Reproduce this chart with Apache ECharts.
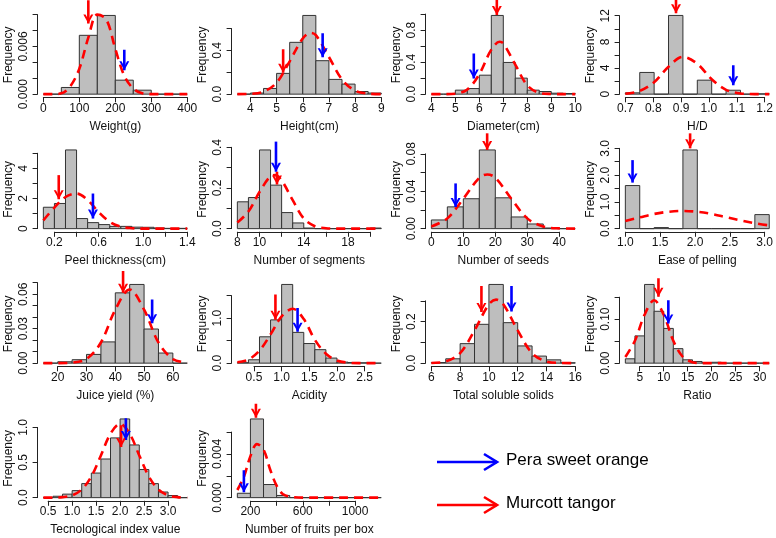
<!DOCTYPE html>
<html lang="en">
<head>
  <meta charset="UTF-8">
  <title>Fruit traits</title>
  <script src="https://cdn.jsdelivr.net/npm/echarts@6/dist/echarts.min.js"></script>
  <style>
    body { margin: 0; background: #fff; }
    #chart { width: 776px; height: 538px; }
  </style>
</head>
<body>
  <div id="chart"></div>
<script>
  // ---- data (densities, curve points, ticks, arrows [x, yTop, yTip]) ----
  const weightStart = 0, weightStep = 50;
  const weightDens = [0, 0.00084, 0.0074, 0.0099, 0.00176, 0.0005, 0, 0];
  const weightCurve = [[0, 0], [25, 0], [50, 0.0001], [75, 0.001], [100, 0.0032], [125, 0.0071], [150, 0.0100], [175, 0.0094], [200, 0.0057], [225, 0.0023], [250, 0.0007], [275, 0.0001], [300, 0], [350, 0], [400, 0]];
  const weightXTicks = [0, 100, 200, 300, 400];
  const weightXLabels = ['0', '100', '200', '300', '400'];
  const weightYTicks = [0, 0.002, 0.004, 0.006, 0.008, 0.010];
  const weightYLabels = ['0.000', '', '', '0.006', '', ''];
  const weightRed = [125, 0.0118, 0.0089];
  const weightBlue = [225, 0.0056, 0.0030];

  const heightStart = 3.5, heightStep = 0.5;
  const heightDens = [0, 0.01, 0.052, 0.19, 0.474, 0.72, 0.306, 0.135, 0.092, 0.024, 0.01];
  const heightCurve = [[3.5, 0], [4, 0.003], [4.5, 0.022], [5, 0.105], [5.5, 0.30], [6, 0.51], [6.3, 0.56], [6.5, 0.54], [7, 0.34], [7.5, 0.134], [8, 0.032], [8.5, 0.005], [9, 0]];
  const heightXTicks = [4, 5, 6, 7, 8, 9];
  const heightXLabels = ['4', '5', '6', '7', '8', '9'];
  const heightYTicks = [0, 0.2, 0.4, 0.6];
  const heightYLabels = ['0.0', '', '0.4', ''];
  const heightRed = [5.25, 0.41, 0.195];
  const heightBlue = [6.76, 0.557, 0.337];

  const diamStart = 4, diamStep = 0.5;
  const diamDens = [0, 0, 0.05, 0.07, 0.237, 0.983, 0.396, 0.2, 0.05, 0.033, 0.012, 0.008];
  const diamCurve = [[4, 0], [4.5, 0], [5, 0.006], [5.5, 0.058], [6, 0.25], [6.5, 0.556], [6.85, 0.654], [7, 0.634], [7.5, 0.37], [8, 0.11], [8.5, 0.017], [9, 0.002], [9.5, 0], [10, 0]];
  const diamXTicks = [4, 5, 6, 7, 8, 9, 10];
  const diamXLabels = ['4', '5', '6', '7', '8', '9', '10'];
  const diamYTicks = [0, 0.2, 0.4, 0.6, 0.8, 1.0];
  const diamYLabels = ['0.0', '', '0.4', '', '0.8', ''];
  const diamRed = [6.73, 1.175, 0.99];
  const diamBlue = [5.77, 0.509, 0.196];

  const hdStart = 0.7, hdStep = 0.05;
  const hdDens = [0.2, 3.32, 0, 12.04, 0, 2.14, 0, 0.6, 0, 0.05];
  const hdCurve = [[0.7, 0.07], [0.75, 0.49], [0.8, 1.83], [0.85, 4.2], [0.9, 5.71], [0.95, 4.64], [1.0, 2.27], [1.05, 0.66], [1.1, 0.11], [1.15, 0.01], [1.2, 0]];
  const hdXTicks = [0.7, 0.8, 0.9, 1.0, 1.1, 1.2];
  const hdXLabels = ['0.7', '0.8', '0.9', '1.0', '1.1', '1.2'];
  const hdYTicks = [0, 2, 4, 6, 8, 10, 12];
  const hdYLabels = ['0', '', '4', '', '8', '', '12'];
  const hdRed = [0.876, 14.4, 12.36];
  const hdBlue = [1.075, 4.44, 1.38];

  const peelStart = 0.1, peelStep = 0.1;
  const peelDens = [1.42, 1.67, 5.22, 0.67, 0.4, 0.27, 0.15, 0.15, 0.1, 0.09, 0.04, 0.02, 0.02];
  const peelCurve = [[0.1, 0.55], [0.2, 1.4], [0.3, 2.1], [0.4, 2.33], [0.5, 1.9], [0.6, 1.1], [0.7, 0.45], [0.8, 0.13], [0.9, 0.03], [1.0, 0], [1.2, 0], [1.4, 0]];
  const peelXTicks = [0.2, 0.4, 0.6, 0.8, 1.0, 1.2, 1.4];
  const peelXLabels = ['0.2', '', '0.6', '', '1.0', '', '1.4'];
  const peelYTicks = [0, 1, 2, 3, 4, 5];
  const peelYLabels = ['0', '', '2', '', '4', ''];
  const peelRed = [0.239, 3.55, 1.95];
  const peelBlue = [0.548, 2.33, 0.67];

  const segStart = 8, segStep = 1;
  const segDens = [0.132, 0.153, 0.387, 0.214, 0.079, 0.028, 0.003, 0, 0, 0, 0, 0, 0.003];
  const segCurve = [[8, 0.03], [9, 0.084], [10, 0.18], [11, 0.258], [11.4, 0.263], [12, 0.237], [13, 0.14], [14, 0.05], [15, 0.012], [16, 0.002], [17, 0], [19, 0], [21, 0]];
  const segXTicks = [8, 10, 12, 14, 16, 18, 20];
  const segXLabels = ['8', '10', '', '14', '', '18', ''];
  const segYTicks = [0, 0.1, 0.2, 0.3, 0.4];
  const segYLabels = ['0.0', '', '0.2', '', '0.4'];
  const segRed = [11.58, 0.28, 0.217];
  const segBlue = [11.49, 0.428, 0.28];

  const seedStart = 0, seedStep = 5;
  const seedDens = [0.0093, 0.0233, 0.032, 0.0842, 0.033, 0.0125, 0.005, 0.0007, 0];
  const seedCurve = [[0, 0.0023], [5, 0.011], [10, 0.032], [15, 0.0545], [17.5, 0.058], [20, 0.0545], [25, 0.032], [30, 0.011], [35, 0.0023], [40, 0.0003], [45, 0]];
  const seedXTicks = [0, 10, 20, 30, 40];
  const seedXLabels = ['0', '10', '20', '30', '40'];
  const seedYTicks = [0, 0.02, 0.04, 0.06, 0.08];
  const seedYLabels = ['0.00', '', '0.04', '', '0.08'];
  const seedRed = [17.45, 0.102, 0.0842];
  const seedBlue = [7.58, 0.0484, 0.0232];

  const easeStart = 1, easeStep = 0.2;
  const easeDens = [1.61, 0, 0.04, 0, 2.94, 0, 0, 0, 0, 0.525];
  const easeCurve = [[1, 0.29], [1.2, 0.42], [1.4, 0.55], [1.6, 0.63], [1.8, 0.66], [2, 0.63], [2.2, 0.55], [2.4, 0.43], [2.6, 0.31], [2.8, 0.2], [3, 0.12]];
  const easeXTicks = [1, 1.5, 2, 2.5, 3];
  const easeXLabels = ['1.0', '1.5', '2.0', '2.5', '3.0'];
  const easeYTicks = [0, 0.5, 1, 1.5, 2, 2.5, 3];
  const easeYLabels = ['0.0', '', '1.0', '', '2.0', '', '3.0'];
  const easeRed = [1.9, 3.56, 3.0];
  const easeBlue = [1.10, 2.56, 1.72];

  const juiceStart = 15, juiceStep = 5;
  const juiceDens = [0, 0.0012, 0.003, 0.0076, 0.0185, 0.0612, 0.0685, 0.0297, 0.0088, 0];
  const juiceCurve = [[15, 0], [20, 0], [25, 0.0004], [30, 0.0036], [35, 0.018], [40, 0.0465], [45, 0.064], [50, 0.0465], [55, 0.018], [60, 0.0036], [65, 0.0004]];
  const juiceXTicks = [20, 30, 40, 50, 60];
  const juiceXLabels = ['20', '30', '40', '50', '60'];
  const juiceYTicks = [0, 0.01, 0.02, 0.03, 0.04, 0.05, 0.06, 0.07];
  const juiceYLabels = ['0.00', '', '', '0.03', '', '', '0.06', ''];
  const juiceRed = [42.7, 0.0803, 0.0612];
  const juiceBlue = [52.8, 0.0553, 0.0348];

  const acidStart = 0.2, acidStep = 0.2;
  const acidDens = [0.01, 0.075, 0.586, 0.962, 1.75, 0.684, 0.436, 0.30, 0.113, 0.023, 0.015, 0.008, 0];
  const acidCurve = [[0.2, 0.02], [0.4, 0.08], [0.6, 0.28], [0.8, 0.64], [1.0, 1.04], [1.2, 1.21], [1.4, 0.98], [1.6, 0.52], [1.8, 0.21], [2.0, 0.06], [2.2, 0.01], [2.4, 0], [2.6, 0], [2.8, 0]];
  const acidXTicks = [0.5, 1, 1.5, 2, 2.5];
  const acidXLabels = ['0.5', '1.0', '1.5', '2.0', '2.5'];
  const acidYTicks = [0, 0.5, 1, 1.5];
  const acidYLabels = ['0.0', '', '1.0', ''];
  const acidRed = [0.888, 1.527, 0.963];
  const acidBlue = [1.288, 1.227, 0.70];

  const tssStart = 6, tssStep = 1;
  const tssDens = [0.003, 0.021, 0.094, 0.187, 0.379, 0.195, 0.083, 0.034, 0.016, 0.002];
  const tssCurve = [[6, 0.001], [7, 0.008], [8, 0.048], [9, 0.158], [10, 0.284], [10.5, 0.306], [11, 0.284], [12, 0.158], [13, 0.048], [14, 0.008], [15, 0.001], [16, 0]];
  const tssXTicks = [6, 8, 10, 12, 14, 16];
  const tssXLabels = ['6', '8', '10', '12', '14', '16'];
  const tssYTicks = [0, 0.1, 0.2, 0.3];
  const tssYLabels = ['0.0', '', '0.2', ''];
  const tssRed = [9.48, 0.371, 0.246];
  const tssBlue = [11.57, 0.371, 0.249];

  const ratioStart = 2, ratioStep = 2;
  const ratioDens = [0.0099, 0.062, 0.179, 0.118, 0.079, 0.033, 0.0076, 0.0038, 0.001, 0.002, 0, 0, 0, 0, 0];
  const ratioCurve = [[2, 0.014], [4, 0.051], [6, 0.11], [8, 0.143], [10, 0.11], [12, 0.051], [14, 0.014], [16, 0.0023], [18, 0], [20, 0], [24, 0], [28, 0], [32, 0]];
  const ratioXTicks = [5, 10, 15, 20, 25, 30];
  const ratioXLabels = ['5', '10', '15', '20', '25', '30'];
  const ratioYTicks = [0, 0.05, 0.10, 0.15];
  const ratioYLabels = ['0.00', '', '0.10', ''];
  const ratioRed = [8.9, 0.193, 0.151];
  const ratioBlue = [10.96, 0.143, 0.090];

  const techStart = 0.4, techStep = 0.2;
  const techDens = [0, 0.02, 0.05, 0.1, 0.2, 0.35, 0.55, 0.85, 1.12, 0.75, 0.4, 0.2, 0.08, 0.03, 0];
  const techCurve = [[0.4, 0], [0.6, 0.001], [0.8, 0.007], [1.0, 0.033], [1.2, 0.116], [1.4, 0.30], [1.6, 0.60], [1.8, 0.91], [2.0, 1.05], [2.2, 0.91], [2.4, 0.60], [2.6, 0.30], [2.8, 0.116], [3.0, 0.033], [3.2, 0.007], [3.4, 0.001]];
  const techXTicks = [0.5, 1, 1.5, 2, 2.5, 3];
  const techXLabels = ['0.5', '1.0', '1.5', '2.0', '2.5', '3.0'];
  const techYTicks = [0, 0.5, 1.0];
  const techYLabels = ['0.0', '0.5', '1.0'];
  const techRed = [2.02, 1.03, 0.72];
  const techBlue = [2.12, 1.13, 0.82];

  const fruitStart = 100, fruitStep = 100;
  const fruitDens = [0.0004, 0.0072, 0.0012, 0.0002, 0, 0, 0, 0, 0, 0, 0];
  const fruitCurve = [[100, 0.0007], [150, 0.0019], [200, 0.0038], [250, 0.0049], [300, 0.0044], [350, 0.0026], [400, 0.0011], [450, 0.0003], [500, 0.0001], [600, 0], [800, 0], [1000, 0], [1200, 0]];
  const fruitXTicks = [200, 400, 600, 800, 1000];
  const fruitXLabels = ['200', '', '600', '', '1000'];
  const fruitYTicks = [0, 0.002, 0.004, 0.006];
  const fruitYLabels = ['0.000', '', '0.004', ''];
  const fruitRed = [242, 0.0086, 0.0073];
  const fruitBlue = [150, 0.0025, 0.0005];

  const legendNames = ['Pera sweet orange', 'Murcott tangor'];

  // ---- layout ----
  const PW = 194, PH = 134.5;                  // one panel cell
  const PL = 37.6, PR = 193, PT = 12.3, PB = 97.3; // plot region inside a cell
  const FONT = 'Liberation Sans, Arial, sans-serif';
  const RED = '#ff0000', BLUE = '#0000ff';
  const HEAD = 'path://M0,0L10,14L20,0L15.5,0L10,8L4.5,0Z';

  const panels = [
    { title: 'Weight(g)', col: 0, row: 0, start: weightStart, step: weightStep, dens: weightDens, curve: weightCurve, xt: weightXTicks, xl: weightXLabels, yt: weightYTicks, yl: weightYLabels, red: weightRed, blue: weightBlue },
    { title: 'Height(cm)', col: 1, row: 0, start: heightStart, step: heightStep, dens: heightDens, curve: heightCurve, xt: heightXTicks, xl: heightXLabels, yt: heightYTicks, yl: heightYLabels, red: heightRed, blue: heightBlue },
    { title: 'Diameter(cm)', col: 2, row: 0, start: diamStart, step: diamStep, dens: diamDens, curve: diamCurve, xt: diamXTicks, xl: diamXLabels, yt: diamYTicks, yl: diamYLabels, red: diamRed, blue: diamBlue },
    { title: 'H/D', col: 3, row: 0, start: hdStart, step: hdStep, dens: hdDens, curve: hdCurve, xt: hdXTicks, xl: hdXLabels, yt: hdYTicks, yl: hdYLabels, red: hdRed, blue: hdBlue },
    { title: 'Peel thickness(cm)', col: 0, row: 1, start: peelStart, step: peelStep, dens: peelDens, curve: peelCurve, xt: peelXTicks, xl: peelXLabels, yt: peelYTicks, yl: peelYLabels, red: peelRed, blue: peelBlue },
    { title: 'Number of segments', col: 1, row: 1, start: segStart, step: segStep, dens: segDens, curve: segCurve, xt: segXTicks, xl: segXLabels, yt: segYTicks, yl: segYLabels, red: segRed, blue: segBlue },
    { title: 'Number of seeds', col: 2, row: 1, start: seedStart, step: seedStep, dens: seedDens, curve: seedCurve, xt: seedXTicks, xl: seedXLabels, yt: seedYTicks, yl: seedYLabels, red: seedRed, blue: seedBlue },
    { title: 'Ease of pelling', col: 3, row: 1, start: easeStart, step: easeStep, dens: easeDens, curve: easeCurve, xt: easeXTicks, xl: easeXLabels, yt: easeYTicks, yl: easeYLabels, red: easeRed, blue: easeBlue },
    { title: 'Juice yield (%)', col: 0, row: 2, start: juiceStart, step: juiceStep, dens: juiceDens, curve: juiceCurve, xt: juiceXTicks, xl: juiceXLabels, yt: juiceYTicks, yl: juiceYLabels, red: juiceRed, blue: juiceBlue },
    { title: 'Acidity', col: 1, row: 2, start: acidStart, step: acidStep, dens: acidDens, curve: acidCurve, xt: acidXTicks, xl: acidXLabels, yt: acidYTicks, yl: acidYLabels, red: acidRed, blue: acidBlue },
    { title: 'Total soluble solids', col: 2, row: 2, start: tssStart, step: tssStep, dens: tssDens, curve: tssCurve, xt: tssXTicks, xl: tssXLabels, yt: tssYTicks, yl: tssYLabels, red: tssRed, blue: tssBlue },
    { title: 'Ratio', col: 3, row: 2, start: ratioStart, step: ratioStep, dens: ratioDens, curve: ratioCurve, xt: ratioXTicks, xl: ratioXLabels, yt: ratioYTicks, yl: ratioYLabels, red: ratioRed, blue: ratioBlue },
    { title: 'Tecnological index value', col: 0, row: 3, start: techStart, step: techStep, dens: techDens, curve: techCurve, xt: techXTicks, xl: techXLabels, yt: techYTicks, yl: techYLabels, red: techRed, blue: techBlue },
    { title: 'Number of fruits per box', col: 1, row: 3, start: fruitStart, step: fruitStep, dens: fruitDens, curve: fruitCurve, xt: fruitXTicks, xl: fruitXLabels, yt: fruitYTicks, yl: fruitYLabels, red: fruitRed, blue: fruitBlue }
  ];

  function labeler(ticks, labels) {
    const eps = (ticks[1] - ticks[0]) * 1e-3;
    return function (v) {
      const k = ticks.findIndex(t => Math.abs(t - v) < eps);
      return k < 0 ? '' : labels[k];
    };
  }

  function renderBar(params, api) {
    const a = api.coord([api.value(0), api.value(2)]);
    const b = api.coord([api.value(1), 0]);
    return {
      type: 'rect',
      shape: { x: a[0], y: a[1], width: b[0] - a[0], height: b[1] - a[1] },
      style: { fill: '#bebebe', stroke: '#333', lineWidth: 1 }
    };
  }

  function arrowSeries(a, color, gi) {
    return {
      type: 'line', xAxisIndex: gi, yAxisIndex: gi, clip: false, silent: true, z: 6,
      lineStyle: { color: color, width: 2.6 }, itemStyle: { color: color },
      data: [
        { value: [a[0], a[1]], symbol: 'none' },
        { value: [a[0], a[2]], symbol: HEAD, symbolSize: [10, 9], symbolOffset: [0, -4.5] }
      ]
    };
  }

  const hidden = { show: false };
  const axisColor = '#222';
  const grid = [], xAxis = [], yAxis = [], series = [];

  panels.forEach((p, i) => {
    const L = p.col * PW, T = p.row * PH;
    const n = p.dens.length, span = n * p.step;
    const xlo = p.start - 0.04 * span, xhi = p.start + span + 0.04 * span;
    const ymax = Math.max(...p.dens);
    const ylo = -0.04 * ymax, yhi = 1.04 * ymax;
    const left = L + PL, top = T + PT, w = PR - PL, h = PB - PT;
    const xpx = v => left + (v - xlo) / (xhi - xlo) * w;
    const ypx = v => top + h - (v - ylo) / (yhi - ylo) * h;
    const g = 3 * i;

    // data grid = R plot region
    grid.push({ left: left, top: top, width: w, height: h });
    xAxis.push({
      gridIndex: g, type: 'value', min: xlo, max: xhi,
      axisLine: hidden, axisTick: hidden, axisLabel: hidden, splitLine: hidden,
      name: p.title, nameLocation: 'middle', nameGap: 23,
      nameTextStyle: { fontSize: 12, color: '#111', fontFamily: FONT }
    });
    yAxis.push({
      gridIndex: g, type: 'value', min: ylo, max: yhi,
      axisLine: hidden, axisTick: hidden, axisLabel: hidden, splitLine: hidden,
      name: 'Frequency', nameLocation: 'middle', nameGap: 23,
      nameTextStyle: { fontSize: 12, color: '#111', fontFamily: FONT }
    });

    // x axis drawn only from first to last tick
    const xt = p.xt, yt = p.yt;
    grid.push({ left: xpx(xt[0]), top: top, width: xpx(xt[xt.length - 1]) - xpx(xt[0]), height: h });
    xAxis.push({
      gridIndex: g + 1, type: 'value', min: xt[0], max: xt[xt.length - 1], interval: xt[1] - xt[0],
      axisLine: { lineStyle: { color: axisColor, width: 1 } },
      axisTick: { length: 5, lineStyle: { color: axisColor } },
      axisLabel: { margin: 5, fontSize: 12, color: '#111', fontFamily: FONT, showMinLabel: true, showMaxLabel: true, formatter: labeler(xt, p.xl) },
      splitLine: hidden
    });
    yAxis.push({ gridIndex: g + 1, type: 'value', min: 0, max: 1, show: false });

    // y axis drawn only from 0 to last tick
    const yTopPx = ypx(yt[yt.length - 1]);
    grid.push({ left: left, top: yTopPx, width: w, height: ypx(0) - yTopPx });
    xAxis.push({ gridIndex: g + 2, type: 'value', min: 0, max: 1, show: false });
    yAxis.push({
      gridIndex: g + 2, type: 'value', min: 0, max: yt[yt.length - 1], interval: yt[1] - yt[0],
      axisLine: { lineStyle: { color: axisColor, width: 1 } },
      axisTick: { length: 5, lineStyle: { color: axisColor } },
      axisLabel: { rotate: 90, margin: 8, fontSize: 12, color: '#111', fontFamily: FONT, showMinLabel: true, showMaxLabel: true, formatter: labeler(yt, p.yl) },
      splitLine: hidden
    });

    const bins = p.dens.map((d, k) => [p.start + k * p.step, p.start + (k + 1) * p.step, d]);
    series.push({
      type: 'custom', xAxisIndex: g, yAxisIndex: g, renderItem: renderBar,
      encode: { x: [0, 1], y: 2 }, data: bins, silent: true, z: 2
    });
    series.push({
      type: 'line', xAxisIndex: g, yAxisIndex: g, data: p.curve, smooth: 0.35,
      showSymbol: false, clip: false, silent: true, z: 4,
      lineStyle: { color: RED, width: 2.6, type: [9, 6] }
    });
    series.push(arrowSeries(p.red, RED, g));
    series.push(arrowSeries(p.blue, BLUE, g));
  });

  // legend in the empty bottom-right cells
  function legendArrow(y, color) {
    return [
      { type: 'line', shape: { x1: 437, y1: y, x2: 497, y2: y }, style: { stroke: color, lineWidth: 2.6 } },
      { type: 'polyline', shape: { points: [[484, y - 8], [497, y], [484, y + 8]] }, style: { stroke: color, lineWidth: 2.6, fill: null } }
    ];
  }
  const graphic = [].concat(
    legendArrow(462, BLUE),
    legendArrow(505, RED),
    [
      { type: 'text', left: 506, top: 452, style: { text: legendNames[0], fontSize: 17, fill: '#000', fontFamily: FONT } },
      { type: 'text', left: 506, top: 495, style: { text: legendNames[1], fontSize: 17, fill: '#000', fontFamily: FONT } }
    ]
  );

  const chart = echarts.init(document.getElementById('chart'));
  chart.setOption({
    animation: false,
    backgroundColor: '#fff',
    textStyle: { fontFamily: FONT },
    grid: grid,
    xAxis: xAxis,
    yAxis: yAxis,
    series: series,
    graphic: graphic
  });
</script>
</body>
</html>
